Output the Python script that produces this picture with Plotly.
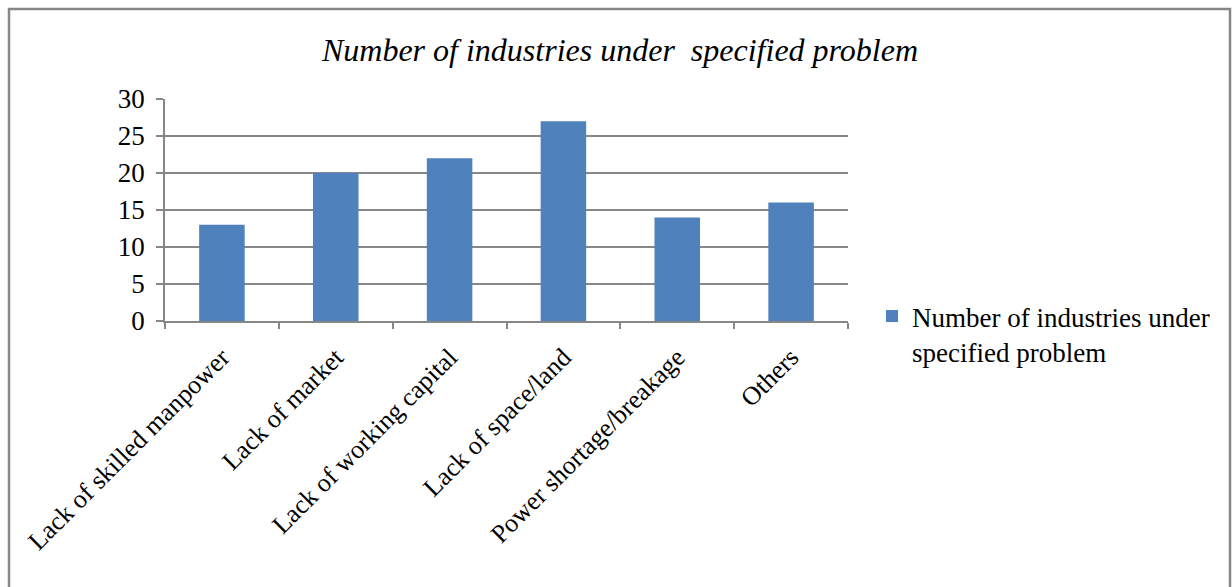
import plotly.graph_objects as go

categories = ["Lack of skilled manpower", "Lack of market", "Lack of working capital",
              "Lack of space/land", "Power shortage/breakage", "Others"]
values = [13, 20, 22, 27, 14, 16]
series_name = "Number of industries under<br>specified problem"
title_text = "Number of industries under  specified problem"
y_ticks = [0, 5, 10, 15, 20, 25, 30]

W, H = 1232, 587
L, R, T, B = 165, 384, 99, 266
pw = W - L - R
ph = H - T - B

def px_x(x):
    return (x - L) / pw

def px_y(y):
    return (H - B - y) / ph

fig = go.Figure()
fig.add_trace(go.Bar(
    x=categories, y=values, name=series_name,
    marker=dict(color="#4F81BD", line=dict(width=0)),
    showlegend=True,
))

font = "Liberation Serif"
fig.update_layout(
    width=W, height=H,
    margin=dict(l=L, r=R, t=T, b=B),
    paper_bgcolor="white", plot_bgcolor="white",
    font=dict(family=font, size=27, color="black"),
    bargap=0.6,
    title=dict(text="<i>" + title_text + "</i>", x=620 / W, xref="container", xanchor="center",
               y=1 - 50 / H, yref="container", yanchor="middle",
               font=dict(family=font, size=32, color="black")),
    showlegend=True,
    legend=dict(x=px_x(872), xanchor="left", y=px_y(292), yanchor="top",
                valign="top", font=dict(family=font, size=27, color="black"),
                bgcolor="rgba(0,0,0,0)", itemwidth=30, tracegroupgap=0),
    xaxis=dict(
        showline=True, linecolor="#878787", linewidth=1.5,
        ticks="outside", ticklen=6, tickcolor="#878787", tickwidth=1.5,
        tickson="boundaries", tickangle=-45,
        showgrid=False, tickfont=dict(family=font, size=26, color="black"),
        ticklabelstandoff=9,
    ),
    yaxis=dict(
        range=[0, 30], tickvals=y_ticks, ticktext=[str(v) for v in y_ticks],
        showline=True, linecolor="#878787", linewidth=1.5,
        ticks="outside", ticklen=7, tickcolor="#878787", tickwidth=1.5,
        showgrid=True, gridcolor="#878787", gridwidth=1.5,
        zeroline=False, tickfont=dict(family=font, size=27, color="black"),
        ticklabelstandoff=6,
    ),
    shapes=[dict(type="rect", xref="paper", yref="paper",
                 x0=px_x(9), x1=px_x(1230), y0=px_y(600), y1=px_y(9),
                 line=dict(color="#878787", width=2.5), fillcolor="rgba(0,0,0,0)",
                 layer="below")],
)

fig.write_html("out.html")
